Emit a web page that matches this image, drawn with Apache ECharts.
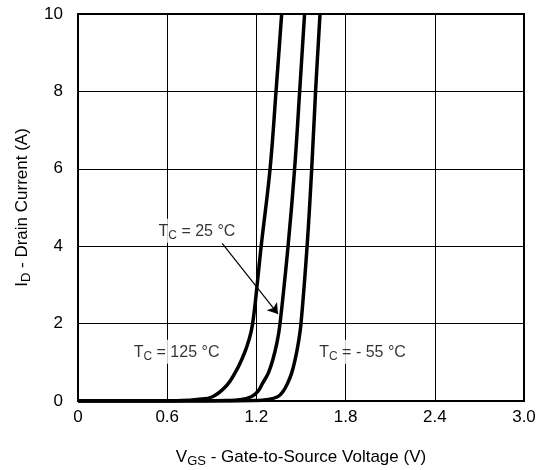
<!DOCTYPE html>
<html>
<head>
<meta charset="utf-8">
<script src="https://cdn.jsdelivr.net/npm/echarts@6/dist/echarts.min.js"></script>
<style>
html,body{margin:0;padding:0;background:#fff;}
#c{width:547px;height:470px;}
</style>
</head>
<body>
<div id="c"></div>
<script>
// ---- data ----
const xTickLabels = ['0', '0.6', '1.2', '1.8', '2.4', '3.0'];
const yTickLabels = ['0', '2', '4', '6', '8', '10'];

// VGS (V) / ID (A) per case temperature
const vgs125 = [0, 0.55, 0.70, 0.80, 0.905, 1.00, 1.06, 1.10, 1.135, 1.165, 1.185, 1.205, 1.232, 1.292, 1.332, 1.370];
const id125  = [0, 0.0, 0.01, 0.04, 0.11, 0.40, 0.75, 1.06, 1.40, 1.80, 2.3, 3.0, 4.0, 6.0, 8.0, 10];

const vgs25 = [0, 0.85, 1.00, 1.086, 1.165, 1.21, 1.242, 1.28, 1.310, 1.338, 1.359, 1.413, 1.457, 1.491, 1.524];
const id25  = [0, 0.0, 0.01, 0.03, 0.11, 0.25, 0.46, 0.72, 1.06, 1.50, 2.0, 4.0, 6.0, 8.0, 10];

const vgsM55 = [0, 1.05, 1.20, 1.265, 1.343, 1.38, 1.410, 1.437, 1.460, 1.482, 1.500, 1.541, 1.572, 1.598, 1.628];
const idM55  = [0, 0.0, 0.01, 0.03, 0.11, 0.25, 0.46, 0.72, 1.06, 1.50, 2.0, 4.0, 6.0, 8.0, 10];

// annotations (data coordinates)
const labelTexts = ['125 °C', '25 °C', '- 55 °C'];
const labelPos = [[0.663, 1.27], [0.80, 4.40], [1.914, 1.27]];
const arrowFrom = [0.970, 4.075];
const arrowTo = [1.345, 2.25];

function zip(a, b) { return a.map((v, i) => [v, b[i]]); }

const FONT = '"Liberation Sans", Arial, Helvetica, sans-serif';
function richSub(main, sub, shift) {
  return {
    m: { fontSize: main, fontFamily: FONT, color: '#000' },
    s: { fontSize: sub, fontFamily: FONT, color: '#000', padding: [shift, 0, 0, 0] }
  };
}

const curveStyle = { color: '#000', width: 3.5 };
const lineCommon = { type: 'line', smooth: 0.4, showSymbol: false, symbol: 'none', lineStyle: curveStyle, clip: true, z: 3 };

const chart = echarts.init(document.getElementById('c'), null, { renderer: 'canvas' });
chart.setOption({
  animation: false,
  backgroundColor: '#fff',
  grid: { left: 78, right: 23, top: 14, bottom: 69, outerBoundsMode: 'none', containLabel: false,
    show: true, borderColor: '#000', borderWidth: 2, backgroundColor: 'transparent' },
  xAxis: {
    type: 'value', min: 0, max: 3, interval: 0.6,
    axisLine: { show: true, lineStyle: { color: '#000', width: 2 } },
    axisTick: { show: false },
    splitLine: { show: true, lineStyle: { color: '#000', width: 1 } },
    axisLabel: { color: '#000', fontSize: 17, fontFamily: FONT, margin: 8,
      formatter: (v, i) => xTickLabels[i] },
    name: '{m|V}{s|GS}{m| - Gate-to-Source Voltage (V)}',
    nameLocation: 'middle', nameGap: 45,
    nameTextStyle: { rich: richSub(17, 13, 9) }
  },
  yAxis: {
    type: 'value', min: 0, max: 10, interval: 2,
    axisLine: { show: true, lineStyle: { color: '#000', width: 2 } },
    axisTick: { show: false },
    splitLine: { show: true, lineStyle: { color: '#000', width: 1 } },
    axisLabel: { color: '#000', fontSize: 17, fontFamily: FONT, margin: 15,
      formatter: (v, i) => yTickLabels[i] },
    name: '{m|I}{s|D}{m| - Drain Current (A)}',
    nameLocation: 'middle', nameGap: 29,
    nameTextStyle: { rich: richSub(17, 13, 9) }
  },
  series: [
    Object.assign({ data: zip(vgs125, id125) }, lineCommon),
    Object.assign({ data: zip(vgs25, id25) }, lineCommon),
    Object.assign({ data: zip(vgsM55, idM55) }, lineCommon),
    { type: 'scatter', symbolSize: 0, z: 5,
      data: labelPos.map((p, i) => ({ value: p, name: labelTexts[i] })),
      label: { show: true, position: 'inside', backgroundColor: '#fff', padding: [3, 3, 1, 3],
        formatter: p => '{m|T}{s|C}{m| = ' + p.name + '}', rich: richSub(16, 12, 8) },
      markLine: {
        silent: true, symbol: ['none', 'arrow'], symbolSize: 10,
        lineStyle: { color: '#000', width: 1.2, type: 'solid' }, label: { show: false },
        data: [[{ coord: arrowFrom }, { coord: arrowTo }]]
      }
    }
  ]
});
</script>
</body>
</html>
